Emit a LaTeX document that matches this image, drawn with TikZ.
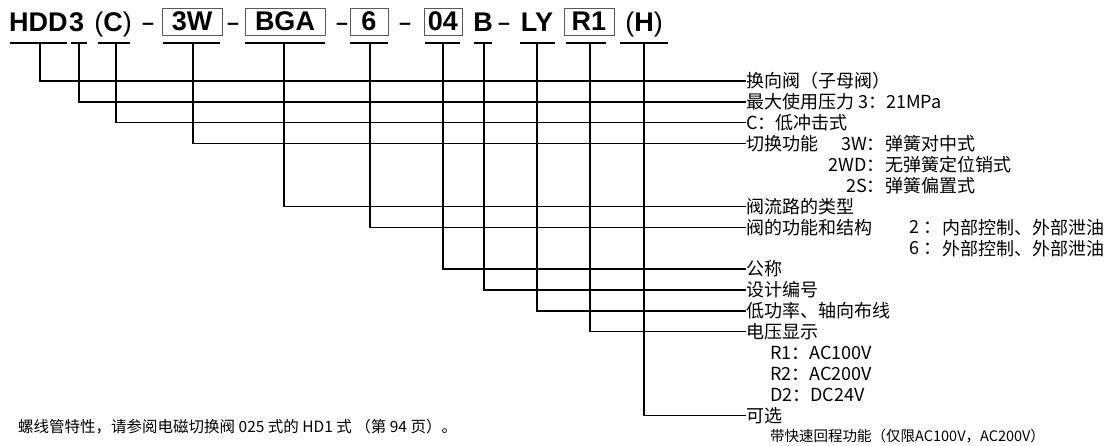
\documentclass[tikz,border=0pt]{standalone}
\usepackage{fontspec}
\setmainfont{Liberation Sans}
\newfontfamily\hdrfont{Liberation Sans}
\newfontfamily\cjk{Noto Sans CJK SC}
\begin{document}
\begin{tikzpicture}[x=1pt,y=-1pt,
  hd/.style={font=\hdrfont\bfseries\fontsize{27}{27}\selectfont, inner sep=0pt},
  dsh/.style={font=\hdrfont\fontsize{27}{27}\selectfont, inner sep=0pt, anchor=base},
  bx/.style={hd, draw=black!65, line width=0.8pt, minimum height=27pt, anchor=center},
  lbl/.style={font=\cjk\fontsize{18}{18}\selectfont, inner sep=0pt, anchor=west},
  sub/.style={font=\cjk\fontsize{18}{18}\selectfont, inner sep=0pt},
  small/.style={font=\cjk\fontsize{14.5}{14.5}\selectfont, inner sep=0pt, anchor=west},
  note/.style={font=\cjk\fontsize{15.5}{15.5}\selectfont, inner sep=0pt, anchor=west},
  ln/.style={line width=1.3pt, line cap=rect}]
\useasboundingbox (0,0) rectangle (1112,445);

% ---- header ----
\node[hd, anchor=base west] (hHDD) at (9,31) {HDD};
\node[hd, anchor=base west] (h3) at (69,31) {3};
\node[hd, anchor=base] (hC) at (113,31) {{\mdseries(}C{\mdseries)}};
\node[dsh] (d1) at (148,31) {\scalebox{1.6}[1]{-}};
\node[bx, minimum width=60pt] (h3W) at (192,21.5) {3W};
\node[dsh] (d2) at (233,31) {\scalebox{1.6}[1]{-}};
\node[bx, minimum width=80pt] (hBGA) at (285,21.5) {BGA};
\node[dsh] (d3) at (342,31) {\scalebox{1.6}[1]{-}};
\node[bx, minimum width=38pt] (h6) at (369,21.5) {6};
\node[dsh] (d4) at (405,31) {\scalebox{1.6}[1]{-}};
\node[bx, minimum width=38pt] (h04) at (443,21.5) {04};
\node[hd, anchor=base] (hB) at (483,31) {B};
\node[dsh] (d5) at (504,31) {\scalebox{1.6}[1]{-}};
\node[hd, anchor=base] (hLY) at (537,31) {LY};
\node[bx, minimum width=50pt] (hR1) at (589,21.5) {R1};
\node[hd, anchor=base] (hH) at (644,31) {{\mdseries(}H{\mdseries)}};

% ---- underlines ----
\foreach \a/\b in {10/67, 71/87, 98/130, 163/220, 245/325, 350/388, 425/460, 474/492, 520/555, 566/606, 620/668}
  \draw[line width=1.3pt] (\a,43) -- (\b,43);

% ---- labels ----
\def\rw{20.9}
\node[lbl] (L1) at (746,81) {换向阀（子母阀）};
\node[lbl] (L2) at (746,{81+1*\rw}) {最大使用压力 3：21MPa};
\node[lbl] (L3) at (746,{81+2*\rw}) {C：低冲击式};
\node[lbl] (L4) at (746,{81+3*\rw}) {切换功能};
\node[sub, anchor=east] (s1a) at (885,{81+3*\rw}) {3W：};
\node[sub, anchor=west] (s1b) at (885,{81+3*\rw}) {弹簧对中式};
\node[sub, anchor=east] (s2a) at (885,{81+4*\rw}) {2WD：};
\node[sub, anchor=west] (s2b) at (885,{81+4*\rw}) {无弹簧定位销式};
\node[sub, anchor=east] (s3a) at (885,{81+5*\rw}) {2S：};
\node[sub, anchor=west] (s3b) at (885,{81+5*\rw}) {弹簧偏置式};
\node[lbl] (L5) at (746,{81+6*\rw}) {阀流路的类型};
\node[lbl] (L6) at (746,{81+7*\rw}) {阀的功能和结构};
\node[sub, anchor=east] (t1a) at (942,{81+7*\rw}) {2 ：};
\node[sub, anchor=west] (t1b) at (942,{81+7*\rw}) {内部控制、外部泄油};
\node[sub, anchor=east] (t2a) at (942,{81+8*\rw}) {6 ：};
\node[sub, anchor=west] (t2b) at (942,{81+8*\rw}) {外部控制、外部泄油};
\node[lbl] (L7) at (746,{81+9*\rw}) {公称};
\node[lbl] (L8) at (746,{81+10*\rw}) {设计编号};
\node[lbl] (L9) at (746,{81+11*\rw}) {低功率、轴向布线};
\node[lbl] (L10) at (746,{81+12*\rw}) {电压显示};
\node[lbl] (v1) at (770,{81+13*\rw}) {R1：AC100V};
\node[lbl] (v2) at (770,{81+14*\rw}) {R2：AC200V};
\node[lbl] (v3) at (770,{81+15*\rw}) {D2：DC24V};
\node[lbl] (L11) at (746,{81+16*\rw}) {可选};
\node[small] (opt) at (770,{81+17*\rw}) {带快速回程功能（仅限AC100V，AC200V）};

\node[note] (fn) at (18,427) {螺线管特性，请参阅电磁切换阀 025 式的 HD1 式 （第 94 页）。};

% ---- connectors ----
\foreach \x/\n in {40/L1, 79/L2, 116/L3, 193/L4, 284/L5, 370/L6, 443/L7, 484/L8, 537/L9, 590/L10, 644/L11}{
  \coordinate (c\n) at (\x,43);
  \draw[ln] (c\n) |- ([xshift=-1pt]\n.west);
}
\end{tikzpicture}
\end{document}
